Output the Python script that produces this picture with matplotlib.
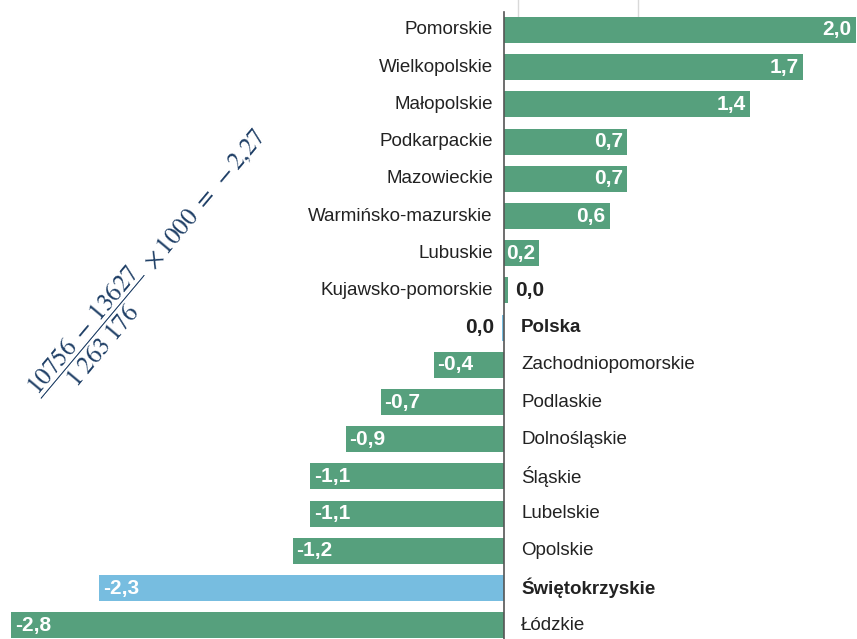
import numpy as np
import matplotlib
matplotlib.use('Agg')
import matplotlib.pyplot as plt

plt.rcParams['font.family'] = ['Liberation Sans', 'DejaVu Sans']
plt.rcParams['mathtext.fontset'] = 'stix'

regions = ['Pomorskie', 'Wielkopolskie', 'Małopolskie', 'Podkarpackie', 'Mazowieckie',
           'Warmińsko-mazurskie', 'Lubuskie', 'Kujawsko-pomorskie', 'Polska',
           'Zachodniopomorskie', 'Podlaskie', 'Dolnośląskie', 'Śląskie', 'Lubelskie',
           'Opolskie', 'Świętokrzyskie', 'Łódzkie']
values = [2.0, 1.7, 1.4, 0.7, 0.7, 0.6, 0.2, 0.02, -0.01,
          -0.4, -0.7, -0.9, -1.1, -1.1, -1.2, -2.3, -2.8]
labels = ['2,0', '1,7', '1,4', '0,7', '0,7', '0,6', '0,2', '0,0', '0,0',
          '-0,4', '-0,7', '-0,9', '-1,1', '-1,1', '-1,2', '-2,3', '-2,8']
highlight = ['Polska', 'Świętokrzyskie']

green = '#56a07d'
blue = '#77bde0'

fig = plt.figure(figsize=(8.57, 6.39), dpi=100)
ax = fig.add_axes([0, 0, 1, 1])

y = np.arange(len(regions))
colors = [blue if r in highlight else green for r in regions]
ax.barh(y, values, height=0.7, color=colors, zorder=2)

ax.set_xlim(-2.864, 2.006)
ax.set_ylim(16.37, -0.806)
ax.axis('off')

# short grid stubs at top and zero axis
for gx in [0.08, 0.76]:
    ax.axvline(gx, ymin=0.974, ymax=1, color='#d9d9d9', lw=1, zorder=1)
ax.axvline(0, ymin=0, ymax=0.981, color='#555555', lw=1.2, zorder=3)

fs = 13.5
vfs = 15
for i, (r, v, lab) in enumerate(zip(regions, values, labels)):
    weight = 'bold' if r in highlight else 'normal'
    small = abs(v) < 0.1
    if v >= 0:
        ax.text(-0.063, i, r, ha='right', va='center', fontsize=fs, color='#222222', fontweight=weight)
        if small:
            ax.text(v + 0.045, i, lab, ha='left', va='center', fontsize=vfs, color='#222222', fontweight='bold')
        else:
            ax.text(v - 0.025, i, lab, ha='right', va='center', fontsize=vfs, color='white', fontweight='bold')
    else:
        ax.text(0.097, i, r, ha='left', va='center', fontsize=fs, color='#222222', fontweight=weight)
        if small:
            ax.text(-0.055, i, lab, ha='right', va='center', fontsize=vfs, color='#222222', fontweight='bold')
        else:
            ax.text(v + 0.02, i, lab, ha='left', va='center', fontsize=vfs, color='white', fontweight='bold')

fig.text(152 / 857, 1 - 266 / 639,
         r'$\dfrac{10756\;-\;13627}{1\;263\;176}\;\times 1000\ =\ -2{,}27$',
         rotation=50, ha='center', va='center', rotation_mode='anchor',
         fontsize=18, color='#1f3f66')

plt.savefig('out.png', dpi=100)
